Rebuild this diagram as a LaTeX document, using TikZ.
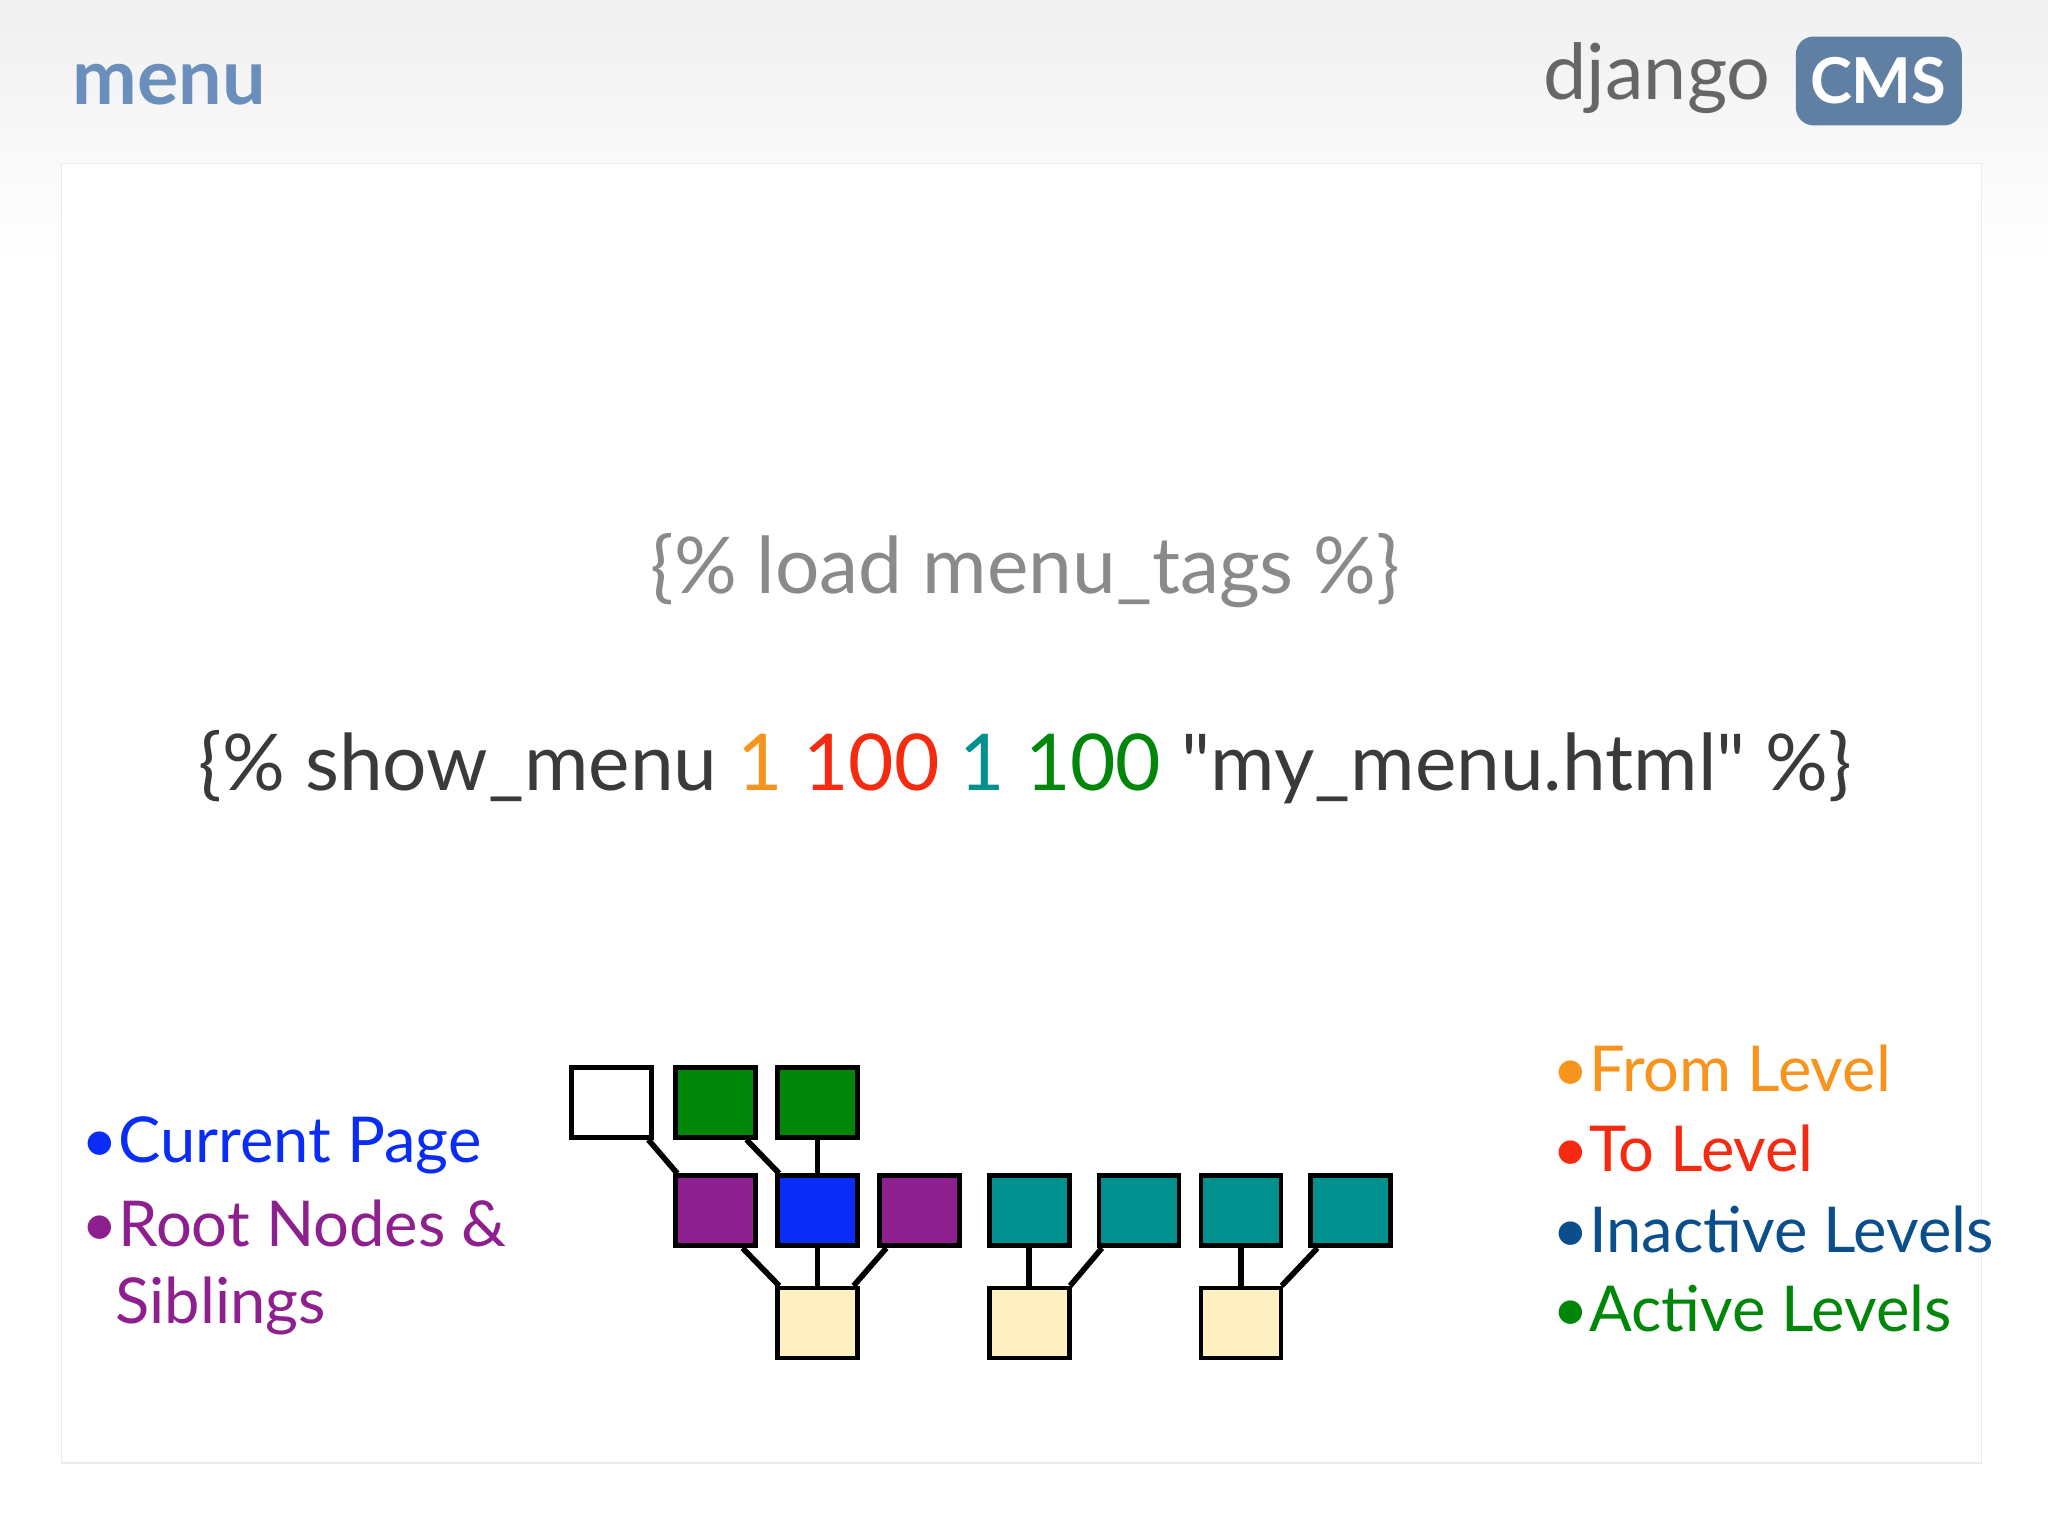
\documentclass[tikz,border=0pt]{standalone}
\usepackage{fontspec}
\setmainfont{Lato}[Ligatures=TeXOff]
\begin{document}
\begin{tikzpicture}[x=0.01306cm,y=-0.01306cm,
  bx/.style={draw=black,line width=1.3pt,minimum width=0.8cm,minimum height=0.7cm,inner sep=0pt},
  ln/.style={line width=1.6pt},
  lg/.style={anchor=west,font=\fontsize{18}{22}\selectfont,inner sep=0pt}]
\definecolor{hdr}{HTML}{6B8FBC}
\definecolor{cmsb}{HTML}{5F7FA3}
\definecolor{gtx}{HTML}{8A8A8A}
\definecolor{dtx}{HTML}{3A3A3A}
\definecolor{org}{HTML}{F7941D}
\definecolor{rd}{HTML}{F52A10}
\definecolor{tl}{HTML}{00918E}
\definecolor{gr}{HTML}{00870A}
\definecolor{pu}{HTML}{8E1F8E}
\definecolor{bl}{HTML}{0A2CF7}
\definecolor{nb}{HTML}{0A4E8C}
\definecolor{cr}{HTML}{FFF0C2}
\useasboundingbox (0,0) rectangle (1568,1176);
\shade[top color=black!6,bottom color=white] (0,0) rectangle (1568,200);
\fill[white] (0,200) rectangle (1568,1176);
\draw[black!8,fill=white] (47,125) rectangle (1517,1120);
\node[anchor=west,text=hdr,font=\fontsize{22}{26}\selectfont\bfseries,inner sep=0pt] (title) at (55,65) {menu};
\fill[cmsb,rounded corners=5pt] (1375,28) rectangle (1502,96);
\node[text=white,font=\fontsize{18}{22}\selectfont\bfseries] (cmst) at (1438,62) {CMS};
\node[anchor=east,text=black!60,font=\fontsize{22}{26}\selectfont] (dj) at (1365,60) {django};
\node[text=gtx,font=\fontsize{22.3}{27}\selectfont] (load) at (785,437) {\{\% load menu\_tags \%\}};
\node[text=dtx,font=\fontsize{22.3}{27}\selectfont] (show) at (785,587) {\{\% show\_menu \textcolor{org}{1} \textcolor{rd}{100} \textcolor{tl}{1} \textcolor{gr}{100} "my\_menu.html" \%\}};
% boxes
\node[bx,fill=white] (w) at (468,844) {};
\node[bx,fill=gr] (g1) at (548,844) {};
\node[bx,fill=gr] (g2) at (626,844) {};
\node[bx,fill=pu] (p1) at (548,927) {};
\node[bx,fill=bl] (b) at (626,927) {};
\node[bx,fill=pu] (p2) at (704,927) {};
\node[bx,fill=tl] (t1) at (788,927) {};
\node[bx,fill=tl] (t2) at (872,927) {};
\node[bx,fill=tl] (t3) at (950,927) {};
\node[bx,fill=tl] (t4) at (1034,927) {};
\node[bx,fill=cr] (c1) at (626,1013) {};
\node[bx,fill=cr] (c2) at (788,1013) {};
\node[bx,fill=cr] (c3) at (950,1013) {};
\begin{scope}[ln]
\draw ([xshift=-1.5pt]w.south east) -- ([xshift=1.1pt]p1.north west);
\draw ([xshift=-3.3pt]g1.south east) -- ([xshift=1.1pt]b.north west);
\draw (g2.south) -- (b.north);
\draw ([xshift=-4.4pt]p1.south east) -- ([xshift=1.1pt]c1.north west);
\draw (b.south) -- (c1.north);
\draw ([xshift=2.6pt]p2.south west) -- ([xshift=-1.8pt]c1.north east);
\draw (t1.south) -- (c2.north);
\draw ([xshift=1.5pt]t2.south west) -- ([xshift=-0.4pt]c2.north east);
\draw (t3.south) -- (c3.north);
\draw ([xshift=2.6pt]t4.south west) -- ([xshift=-0.4pt]c3.north east);
\end{scope}
% legends
\node[lg,text=bl] (l1) at (62,877) {\textbullet Current Page};
\node[lg,text=pu] (l2) at (62,937) {\textbullet Root Nodes \&};
\node[lg,text=pu] (l3) at (88,1000) {Siblings};
\node[lg,text=org] (r1) at (1188,818) {\textbullet From Level};
\node[lg,text=rd] (r2) at (1188,879) {\textbullet To Level};
\node[lg,text=nb] (r3) at (1188,941) {\textbullet Inactive Levels};
\node[lg,text=gr] (r4) at (1188,1002) {\textbullet Active Levels};
\end{tikzpicture}
\end{document}
